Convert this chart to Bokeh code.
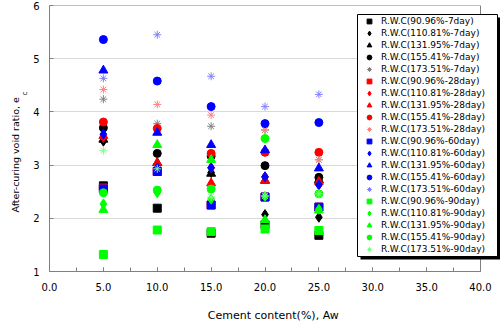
from bokeh.plotting import figure
from bokeh.models import (Legend, LegendItem, Title, BoxAnnotation, Span,
                          SingleIntervalTicker, PrintfTickFormatter, Range1d)
from bokeh.embed import file_html
from bokeh.resources import INLINE

# ---------------- data ----------------
cement = [5.0, 10.0, 15.0, 20.0, 25.0]

# 7 day
rwc_9096_7 = [2.61, 2.19, 1.72, 1.88, 1.68]
rwc_11081_7 = [3.45, 2.95, 2.86, 2.07, 2.02]
rwc_13195_7 = [3.48, 3.04, 2.84, 2.71, 2.72]
rwc_15541_7 = [3.70, 3.22, 3.17, 2.99, 2.77]
rwc_17351_7 = [4.24, 3.78, 3.73, 3.66, 3.10]
# 28 day
rwc_9096_28 = [2.57, 2.88, 2.25, 2.40, 2.21]
rwc_11081_28 = [3.52, 2.95, 2.95, 2.78, 2.63]
rwc_13195_28 = [3.55, 3.04, 2.66, 2.71, 2.69]
rwc_15541_28 = [3.81, 3.69, 3.22, 3.24, 3.24]
rwc_17351_28 = [4.42, 4.14, 3.94, 3.66, 3.10]
# 60 day
rwc_9096_60 = [2.55, 2.88, 2.25, 2.40, 2.21]
rwc_11081_60 = [3.58, 2.95, 2.95, 2.78, 2.63]
rwc_13195_60 = [4.78, 3.61, 3.38, 3.28, 2.94]
rwc_15541_60 = [5.36, 4.58, 4.10, 3.78, 3.80]
rwc_17351_60 = [4.63, 5.45, 4.67, 4.10, 4.33]
# 90 day
rwc_9096_90 = [1.32, 1.78, 1.75, 1.80, 1.77]
rwc_11081_90 = [2.27, 2.48, 2.36, 2.41, 2.17]
rwc_13195_90 = [2.16, 3.38, 3.10, 1.97, 2.15]
rwc_15541_90 = [2.48, 2.53, 2.55, 3.50, 2.46]
rwc_17351_90 = [3.27, 2.93, 2.40, 2.42, 2.46]

water_contents = ["90.96%", "110.81%", "131.95%", "155.41%", "173.51%"]
curing_days = ["7day", "28day", "60day", "90day"]
x_limits = [0, 40]
y_limits = [1, 6]

values = [
    [rwc_9096_7, rwc_11081_7, rwc_13195_7, rwc_15541_7, rwc_17351_7],
    [rwc_9096_28, rwc_11081_28, rwc_13195_28, rwc_15541_28, rwc_17351_28],
    [rwc_9096_60, rwc_11081_60, rwc_13195_60, rwc_15541_60, rwc_17351_60],
    [rwc_9096_90, rwc_11081_90, rwc_13195_90, rwc_15541_90, rwc_17351_90],
]

# ---------------- styles / layout ----------------
markers = ["square", "diamond", "triangle", "circle", "asterisk"]
sizes = [8, 10, 9, 8, 8]
solid = ["#000000", "#FF0000", "#0000FF", "#00FF00"]
light = ["#808080", "#FF8080", "#8080FF", "#80FF80"]
FONT = "DejaVu Sans"

W, H = 500, 324
LEFT, TOP, BOTTOM = 49, 5, 52
AXIS_PX = 431                       # pixel length of the 0..40 axis
frame_w = W - LEFT                  # frame reaches the right edge so the legend fits
x_view_end = x_limits[1] * frame_w / AXIS_PX

p = figure(width=W, height=H, output_backend="svg", toolbar_location=None,
           x_range=Range1d(x_limits[0], x_view_end), y_range=Range1d(*y_limits),
           min_border_left=LEFT, min_border_right=0, min_border_top=TOP,
           min_border_bottom=BOTTOM)
p.background_fill_color = "white"
p.border_fill_color = "white"
p.outline_line_color = None

# x axis
xa = p.xaxis[0]
xa.bounds = tuple(x_limits)
xa.ticker = SingleIntervalTicker(interval=5, num_minor_ticks=2)
xa.formatter = PrintfTickFormatter(format="%.1f")
xa.axis_line_color = "#808080"
xa.major_tick_line_color = "#808080"
xa.minor_tick_line_color = "#808080"
xa.major_tick_in = 4
xa.major_tick_out = 0
xa.minor_tick_in = 4
xa.minor_tick_out = 0
xa.major_label_standoff = 11
xa.major_label_text_font = FONT
xa.major_label_text_font_size = "10px"
xa.major_label_text_color = "#000000"
xa.axis_label = "Cement content(%),  Aw"
xa.axis_label_text_font = FONT
xa.axis_label_text_font_size = "11px"
xa.axis_label_text_font_style = "normal"
xa.axis_label_text_color = "#000000"
xa.axis_label_standoff = 15

# y axis
ya = p.yaxis[0]
ya.ticker = SingleIntervalTicker(interval=1, num_minor_ticks=0)
ya.axis_line_color = "#808080"
ya.major_tick_line_color = "#808080"
ya.major_tick_in = 4
ya.major_tick_out = 0
ya.minor_tick_line_color = None
ya.major_label_standoff = 10
ya.major_label_text_font = FONT
ya.major_label_text_font_size = "10px"
ya.major_label_text_color = "#000000"

p.xgrid.grid_line_color = None
p.ygrid.grid_line_color = "#D9D9D9"
p.ygrid.grid_line_width = 1

# y axis title "After-curing void ratio, e" with subscript "c"
title_sub = Title(text="c", align="left", vertical_align="top", offset=176,
                  standoff=0, text_font=FONT, text_font_size="7px",
                  text_font_style="normal", text_color="#000000")
title_main = Title(text="After-curing void ratio, e", align="left",
                   vertical_align="bottom", offset=59, standoff=0,
                   text_font=FONT, text_font_size="9.5px",
                   text_font_style="normal", text_color="#000000")
p.add_layout(title_sub, "left")
p.add_layout(title_main, "left")

# top / right border of the 0..40 x 1..6 plot box
p.segment(x0=[x_limits[0]], y0=[y_limits[1]], x1=[x_limits[1]], y1=[y_limits[1]],
          line_color="#808080", line_width=1)
p.add_layout(Span(location=x_limits[1], dimension="height",
                  line_color="#808080", line_width=1))

items = []
for d, day in enumerate(curing_days):
    for w, wc in enumerate(water_contents):
        mk = markers[w]
        if mk == "asterisk":
            r = p.scatter(cement, values[d][w], marker=mk, size=sizes[w],
                          line_color=light[d], line_width=1)
        else:
            r = p.scatter(cement, values[d][w], marker=mk, size=sizes[w],
                          fill_color=solid[d], line_color=solid[d])
        items.append(LegendItem(label=f"R.W.C({wc}-{day})", renderers=[r]))

# legend frame + shadow (screen units, relative to the plot frame)
box_l, box_r, box_b, box_t = 308, 448, 15, 257
p.add_layout(BoxAnnotation(left=box_l + 3, right=box_r + 3,
                           bottom=box_b - 3, top=box_t - 3,
                           left_units="screen", right_units="screen",
                           bottom_units="screen", top_units="screen",
                           fill_color="#000000", fill_alpha=1.0, line_color=None))
p.add_layout(BoxAnnotation(left=box_l, right=box_r, bottom=box_b, top=box_t,
                           left_units="screen", right_units="screen",
                           bottom_units="screen", top_units="screen",
                           fill_color="#FFFFFF", fill_alpha=1.0,
                           line_color="#000000", line_width=1, line_alpha=1.0))

legend = Legend(items=items, location=(box_l, 16), padding=0, margin=0,
                spacing=0, glyph_height=12, glyph_width=24, label_height=12,
                label_standoff=0, label_width=110,
                border_line_color=None, background_fill_alpha=0.0,
                label_text_font=FONT, label_text_font_size="9px",
                label_text_color="#000000")
p.add_layout(legend, "center")

open("out.html", "w").write(file_html(p, INLINE))
